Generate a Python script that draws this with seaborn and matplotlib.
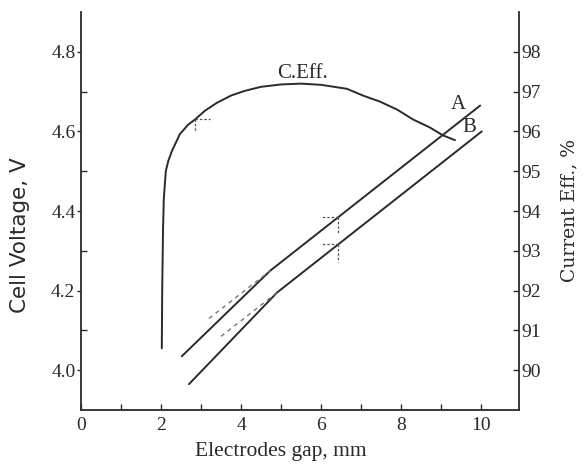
"""
Cell voltage and current efficiency vs electrodes gap
"""
import matplotlib
matplotlib.use("Agg")
import matplotlib.pyplot as plt
import seaborn as sns
import numpy as np

# --- data ------------------------------------------------------------------
# current efficiency curve (right axis, %)
ceff_gap = [2.02, 2.03, 2.05, 2.07, 2.12, 2.18, 2.27, 2.47, 2.68, 2.85, 3.1,
            3.4, 3.75, 4.1, 4.5, 5.0, 5.5, 6.0, 6.65, 7.05, 7.47, 7.9, 8.3,
            8.72, 9.05, 9.35]
ceff_val = [90.55, 92.0, 93.5, 94.3, 95.0, 95.25, 95.5, 95.93, 96.17, 96.3, 96.52,
            96.72, 96.9, 97.02, 97.12, 97.18, 97.2, 97.17, 97.07, 96.9, 96.75,
            96.55, 96.3, 96.1, 95.9, 95.78]

# cell voltage lines (left axis, V)
a_gap = [2.52, 4.73, 9.98]
a_volt = [4.035, 4.25, 4.665]
b_gap = [2.7, 4.9, 10.02]
b_volt = [3.965, 4.195, 4.60]

# dashed extrapolations of the upper parts
a_dash_gap = [3.2, 4.73]
a_dash_volt = [4.13, 4.25]
b_dash_gap = [3.5, 4.9]
b_dash_volt = [4.085, 4.195]

# where the little axis pointers sit on each curve
ptr_ceff_gap = 2.85
ptr_ab_gap = 6.43

x_ticks = [0, 2, 4, 6, 8, 10]
volt_ticks = [4.0, 4.2, 4.4, 4.6, 4.8]
eff_ticks = [90, 91, 92, 93, 94, 95, 96, 97, 98]

ink = "#2a2a2a"

sns.set_theme(style="ticks")
plt.rcParams["font.family"] = ["Liberation Serif", "DejaVu Serif"]
plt.rcParams["text.color"] = ink
plt.rcParams["axes.labelcolor"] = ink
plt.rcParams["xtick.color"] = ink
plt.rcParams["ytick.color"] = ink

fig = plt.figure(figsize=(5.87, 4.66), dpi=100)
ax = fig.add_axes([81 / 587, 56 / 466, 438 / 587, 398 / 466])
ax2 = ax.twinx()

lw = 1.4
sns.lineplot(x=a_gap, y=a_volt, ax=ax, color=ink, lw=lw, sort=False, estimator=None)
sns.lineplot(x=b_gap, y=b_volt, ax=ax, color=ink, lw=lw, sort=False, estimator=None)
sns.lineplot(x=a_dash_gap, y=a_dash_volt, ax=ax, color="#777777", lw=1.0,
             linestyle=(0, (3, 3)), sort=False, estimator=None)
sns.lineplot(x=b_dash_gap, y=b_dash_volt, ax=ax, color="#777777", lw=1.0,
             linestyle=(0, (3, 3)), sort=False, estimator=None)
sns.lineplot(x=ceff_gap, y=ceff_val, ax=ax2, color=ink, lw=lw, sort=False, estimator=None)

# axis pointers: short dash towards the owning axis + a short drop
def pointer(axis, gx, gy, vals, dx, dy):
    y0 = np.interp(gx, gy, vals)
    axis.plot([gx, gx + dx], [y0, y0], color="#555555", lw=0.9, ls=(0, (2, 1.5)))
    axis.plot([gx, gx], [y0, y0 - dy], color="#555555", lw=0.9, ls=(0, (2, 1.5)))

pointer(ax, ptr_ab_gap, a_gap, a_volt, -0.4, 0.04)
pointer(ax, ptr_ab_gap, b_gap, b_volt, -0.4, 0.045)
pointer(ax2, ptr_ceff_gap, ceff_gap, ceff_val, 0.38, 0.28)

# curve labels
ax.text(5.55, 4.745, "C.Eff.", fontsize=15, ha="center", va="center")
ax.text(9.43, 4.668, "A", fontsize=15, ha="center", va="center")
ax.text(9.72, 4.61, "B", fontsize=15, ha="center", va="center")

# limits and ticks
ax.set_xlim(0, 10.95)
ax.set_ylim(3.9, 4.9)
ax2.set_ylim(89, 99)
ax.set_xticks(x_ticks)
ax.set_xticks(np.arange(1, 11, 2), minor=True)
ax.set_yticks(volt_ticks)
ax.set_yticklabels([f"{v:.1f}" for v in volt_ticks])
ax.set_yticks(np.arange(4.1, 4.8, 0.2), minor=True)
ax2.set_yticks(eff_ticks)

ax.tick_params(axis="x", which="both", direction="in", length=4, width=1,
               labelsize=14, pad=5)
ax.tick_params(axis="y", which="major", direction="out", length=3, width=1,
               labelsize=14, pad=1)
ax.tick_params(axis="y", which="minor", direction="in", length=4, width=1)
ax2.tick_params(axis="y", which="major", direction="in", length=4, width=1,
                labelsize=14, pad=2)

for a in (ax, ax2):
    a.spines["top"].set_visible(False)
    for s in ("left", "right", "bottom"):
        a.spines[s].set_color(ink)
        a.spines[s].set_linewidth(1.3)
ax.spines["right"].set_visible(False)
ax2.spines["left"].set_visible(False)
ax2.spines["bottom"].set_visible(False)

ax.set_xlabel("Electrodes gap, mm", fontsize=15.5, va="center")
ax.xaxis.set_label_coords(0.457, -0.105)
ax.set_ylabel("Cell Voltage, V", fontsize=15.5, family=["DejaVu Sans"], va="center")
ax.yaxis.set_label_coords(-0.139, 0.44)
ax2.set_ylabel("Current Eff., %", fontsize=13.5, rotation=90, va="center",
               family=["DejaVu Serif"])
ax2.yaxis.set_label_coords(1.116, 0.5)

fig.savefig("out.png", dpi=100)
